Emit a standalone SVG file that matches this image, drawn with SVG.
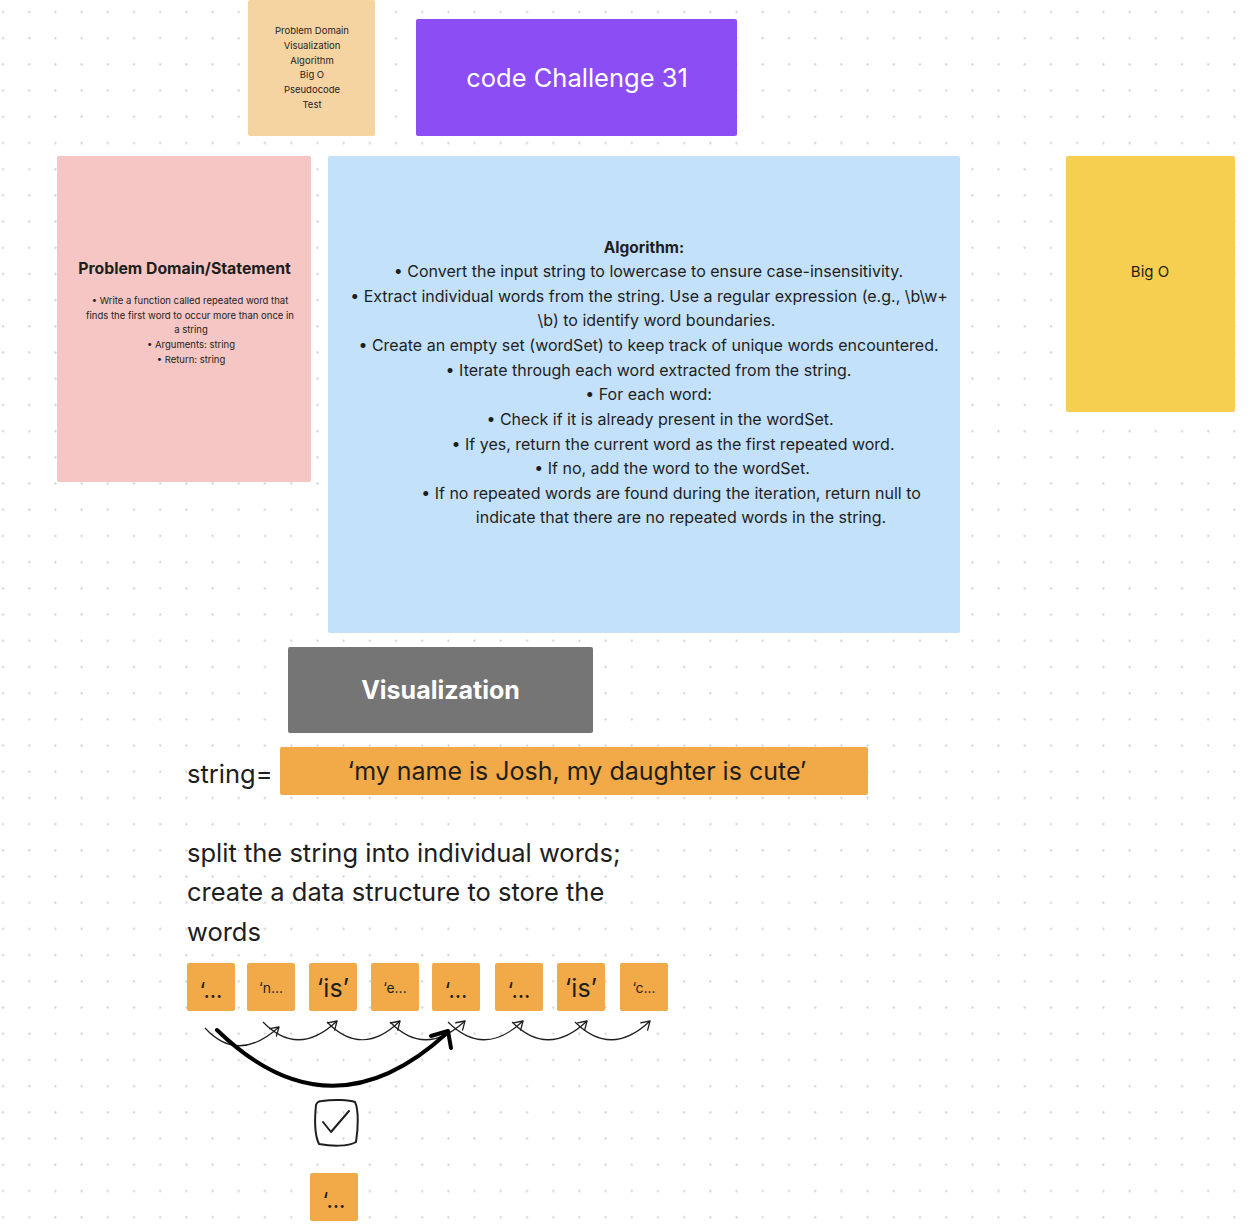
<svg xmlns="http://www.w3.org/2000/svg" width="1256" height="1230" viewBox="0 0 1256 1230">
  <defs>
    <pattern id="dots" patternUnits="userSpaceOnUse" x="-10.1" y="-1.1" width="26.2" height="26.2">
      <circle cx="13.1" cy="13.1" r="1.1" fill="#cdcdcd"/>
    </pattern>
    <marker id="chev" viewBox="0 0 12 12" refX="10" refY="6" markerWidth="12" markerHeight="12" markerUnits="userSpaceOnUse" orient="auto">
      <path d="M2,1 L10,6 L2,11" fill="none" stroke="#1e1e1e" stroke-width="1.3" stroke-linecap="round" stroke-linejoin="round"/>
    </marker>
    <style>
      text { font-family: Inter, "Noto Sans", "Liberation Sans", sans-serif; fill: #1e1e1e; }
      .w { fill: #ffffff; }
      .sm { font-size: 9.5px; text-anchor: middle; }
      .alg { font-size: 16px; }
      .big { font-size: 25.5px; }
      .word { fill: #f2aa48; }
      .arc { fill: none; stroke: #1e1e1e; stroke-width: 1.2; marker-end: url(#chev); }
    </style>
  </defs>
  <rect width="1256" height="1230" fill="#ffffff"/>
  <rect width="1256" height="1230" fill="url(#dots)"/>

  <g id="outline">
    <rect x="248" y="0" width="127" height="136" rx="2" fill="#f6d4a1"/>
    <text class="sm" x="312" y="34">Problem Domain</text>
    <text class="sm" x="312" y="49">Visualization</text>
    <text class="sm" x="312" y="64">Algorithm</text>
    <text class="sm" x="312" y="78">Big O</text>
    <text class="sm" x="312" y="93">Pseudocode</text>
    <text class="sm" x="312" y="108">Test</text>
  </g>

  <g id="title">
    <rect x="416" y="19" width="321" height="117" rx="2" fill="#8d4df5"/>
    <text class="w" x="577" y="87" font-size="25.5" text-anchor="middle">code Challenge 31</text>
  </g>

  <g id="problem-domain">
    <rect x="57" y="156" width="254" height="326" rx="2" fill="#f5c6c3"/>
    <text x="184.5" y="274" font-size="15.8" font-weight="bold" text-anchor="middle">Problem Domain/Statement</text>
    <text class="sm" x="190" y="304">•  Write a function called repeated word that</text>
    <text class="sm" x="190" y="319">finds the first word to occur more than once in</text>
    <text class="sm" x="191" y="333">a string</text>
    <text class="sm" x="191" y="348">•  Arguments: string</text>
    <text class="sm" x="191" y="363">•  Return: string</text>
  </g>

  <g id="algorithm">
    <rect x="328" y="156" width="632" height="477" rx="2" fill="#c3e1fa"/>
    <text x="644" y="253" font-size="15.5" font-weight="bold" text-anchor="middle">Algorithm:</text>
    <text class="alg" x="648.5" y="277" text-anchor="middle">•  Convert the input string to lowercase to ensure case-insensitivity.</text>
    <text class="alg" x="649" y="302" text-anchor="middle">•  Extract individual words from the string. Use a regular expression (e.g., \b\w+</text>
    <text class="alg" x="656.5" y="326" text-anchor="middle">\b) to identify word boundaries.</text>
    <text class="alg" x="648.5" y="351" text-anchor="middle">•  Create an empty set (wordSet) to keep track of unique words encountered.</text>
    <text class="alg" x="648.5" y="376" text-anchor="middle">•  Iterate through each word extracted from the string.</text>
    <text class="alg" x="648.5" y="400" text-anchor="middle">•  For each word:</text>
    <text class="alg" x="660" y="425" text-anchor="middle">•  Check if it is already present in the wordSet.</text>
    <text class="alg" x="673" y="450" text-anchor="middle">•  If yes, return the current word as the first repeated word.</text>
    <text class="alg" x="672" y="474" text-anchor="middle">•  If no, add the word to the wordSet.</text>
    <text class="alg" x="671" y="499" text-anchor="middle">•  If no repeated words are found during the iteration, return null to</text>
    <text class="alg" x="681" y="523" text-anchor="middle">indicate that there are no repeated words in the string.</text>
  </g>

  <g id="big-o">
    <rect x="1066" y="156" width="169" height="256" rx="2" fill="#f6cf50"/>
    <text x="1150" y="277" font-size="15" text-anchor="middle">Big O</text>
  </g>

  <g id="visualization">
    <rect x="288" y="647" width="305" height="86" rx="2" fill="#757575"/>
    <text class="w" x="440.5" y="699" font-size="25" font-weight="bold" text-anchor="middle">Visualization</text>
  </g>

  <g id="string-label">
    <text class="big" x="187" y="783">string=</text>
  </g>

  <g id="string-value">
    <rect x="280" y="747" width="588" height="48" rx="2" fill="#f2aa48"/>
    <text x="577" y="780" font-size="25" text-anchor="middle">‘my name is Josh, my daughter is cute’</text>
  </g>

  <g id="split-note">
    <text class="big" x="187" y="862">split the string into individual words;</text>
    <text class="big" x="187" y="901">create a data structure to store the</text>
    <text class="big" x="187" y="941">words</text>
  </g>

  <g id="word-1"><rect class="word" x="187" y="963" width="48" height="48" rx="2"/><text x="211" y="998" font-size="22" text-anchor="middle">‘...</text></g>
  <g id="word-2"><rect class="word" x="247" y="963" width="48" height="48" rx="2"/><text x="271" y="993" font-size="14" text-anchor="middle">‘n...</text></g>
  <g id="word-3"><rect class="word" x="309" y="963" width="48" height="48" rx="2"/><text x="333" y="997" font-size="25" text-anchor="middle">‘is’</text></g>
  <g id="word-4"><rect class="word" x="371" y="963" width="48" height="48" rx="2"/><text x="395" y="993" font-size="14" text-anchor="middle">‘e...</text></g>
  <g id="word-5"><rect class="word" x="432" y="963" width="48" height="48" rx="2"/><text x="456" y="998" font-size="22" text-anchor="middle">‘...</text></g>
  <g id="word-6"><rect class="word" x="495" y="963" width="48" height="48" rx="2"/><text x="519" y="998" font-size="22" text-anchor="middle">‘...</text></g>
  <g id="word-7"><rect class="word" x="557" y="963" width="48" height="48" rx="2"/><text x="581" y="997" font-size="25" text-anchor="middle">‘is’</text></g>
  <g id="word-8"><rect class="word" x="620" y="963" width="48" height="48" rx="2"/><text x="644" y="993" font-size="14" text-anchor="middle">‘c...</text></g>

  <g id="checkbox">
    <path d="M322,1101 C335,1099 349,1100 355,1102 C359,1110 358,1130 356,1142 C348,1147 330,1146 319,1144 C314,1134 315,1115 316,1105 C317,1102 319,1101 322,1101 Z" fill="none" stroke="#1e1e1e" stroke-width="2" stroke-linejoin="round"/>
    <path d="M323,1122 L331,1132 L349,1111" fill="none" stroke="#1e1e1e" stroke-width="2" stroke-linecap="round" stroke-linejoin="round"/>
  </g>

  <g id="result">
    <rect class="word" x="310" y="1173" width="48" height="48" rx="2"/>
    <text x="334" y="1208" font-size="22" text-anchor="middle">‘...</text>
  </g>

  <g id="connectors">
    <path class="arc" d="M205,1028 Q238,1064 279,1027"/>
    <path class="arc" d="M263,1022 Q298,1058 337,1021"/>
    <path class="arc" d="M327,1022 Q362,1058 400,1021"/>
    <path class="arc" d="M390,1022 Q425,1058 465,1021"/>
    <path class="arc" d="M448,1022 Q484,1058 523,1021"/>
    <path class="arc" d="M512,1022 Q548,1058 587,1021"/>
    <path class="arc" d="M575,1022 Q611,1058 650,1021"/>
    <path d="M217,1030 Q330,1140 447,1033" fill="none" stroke="#000000" stroke-width="4" stroke-linecap="round"/>
    <path d="M431,1036 L448,1031 L451,1048" fill="none" stroke="#000000" stroke-width="4" stroke-linecap="round" stroke-linejoin="round"/>
  </g>
</svg>
